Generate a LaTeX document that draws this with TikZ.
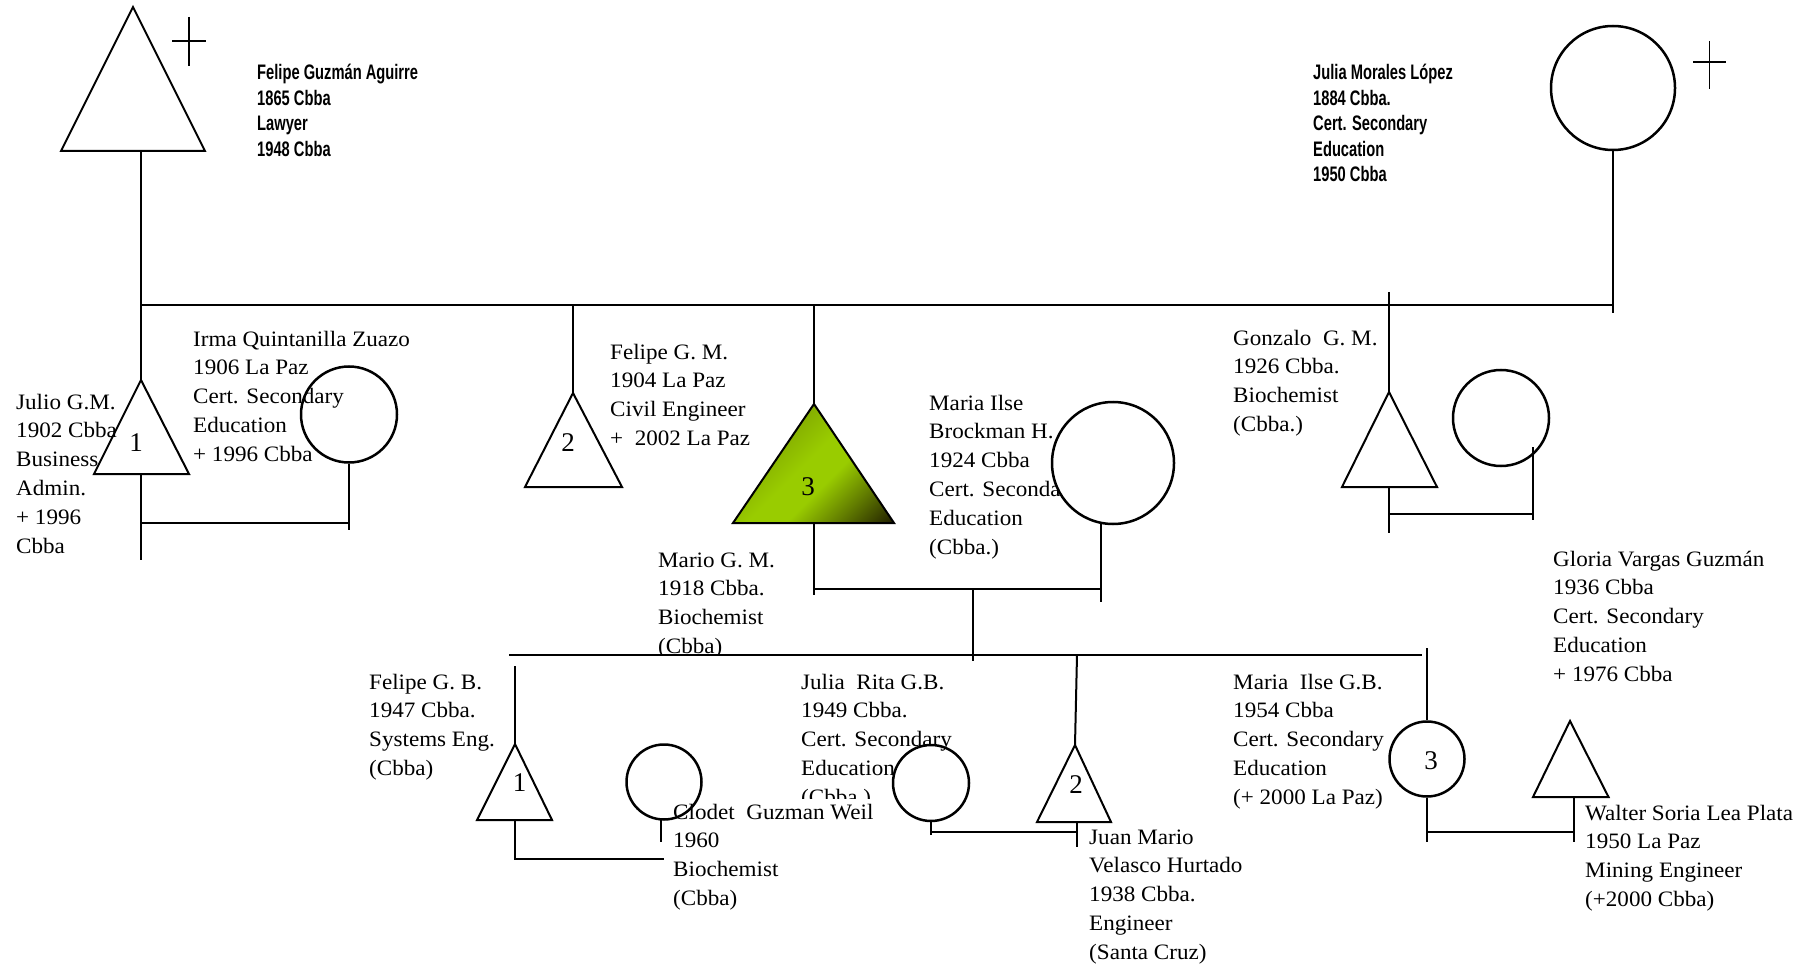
\documentclass[tikz,border=0pt]{standalone}
\usepackage{fontspec}
\setmainfont{Liberation Serif}
\newfontfamily\bodyfont[FakeStretch=1.05]{Liberation Serif}
\newfontfamily\condsans[FakeStretch=0.70]{Liberation Sans}
\newfontfamily\numfont{Liberation Serif}
\definecolor{treeGreen}{HTML}{99CC00}
\definecolor{treeEdge}{HTML}{86B000}
\definecolor{treeDark}{HTML}{262600}
\colorlet{treeMid}{treeDark!45!treeGreen}
\pgfdeclarehorizontalshading{diagshade}{100bp}{color(0bp)=(treeEdge); color(36bp)=(treeEdge); color(48bp)=(treeGreen); color(58bp)=(treeGreen); color(70bp)=(treeMid); color(84bp)=(treeDark); color(100bp)=(treeDark)}
\tikzset{
  ln/.style={line width=2pt},
  shp/.style={line width=2pt, line join=miter},
  crossln/.style={line width=1.6pt},
  circ/.style={circle, draw, line width=2.5pt, inner sep=0pt},
  txt/.style={font=\bodyfont\fontsize{22}{28.8}\selectfont, align=left, anchor=base west, inner sep=0pt},
  hdr/.style={font=\condsans\bfseries\fontsize{21}{25.4}\selectfont, align=left, anchor=base west, inner sep=0pt},
  num/.style={font=\numfont\fontsize{27}{30}\selectfont, inner sep=0pt},
}
\begin{document}
\begin{tikzpicture}[x=1pt,y=-1pt]
\useasboundingbox (0,0) rectangle (1812,965);

% ---------- first generation ----------
\coordinate (fgaTop) at (133,7);
\coordinate (fgaL) at (61,151);
\coordinate (fgaR) at (205,151);
\coordinate (fgaStem) at (141,151);
\coordinate (topL) at (141,305);
\coordinate (topR) at (1613,305);
\draw[shp] (fgaTop) -- (fgaL) -- (fgaR) -- cycle;
\draw[crossln] (189,17) -- (189,66) (172,41) -- (205.5,41);
\node[circ, minimum size=124pt] (jml) at (1613,88) {};
\coordinate (jmlEnd) at (1613,313);
\draw[crossln] (1709.5,41) -- (1709.5,89) (1693,62) -- (1726,62);
\draw[ln] (fgaStem) -- (topL) -- (topR);
\draw[ln] (jml.south) -- (jmlEnd);

% (base anchor = baseline of the last line)
\node[hdr] (tFGA) at (257,156.2) {Felipe Guzmán Aguirre\\1865 Cbba\\Lawyer\\1948 Cbba};
\node[hdr] (tJML) at (1313,181.6) {Julia Morales López\\1884 Cbba.\\Cert. Secondary\\Education\\1950 Cbba};

% ---------- Julio + Irma ----------
\coordinate (julTop) at (141,380);
\coordinate (julL) at (94,474);
\coordinate (julR) at (189,474);
\coordinate (julB) at (141,474);
\coordinate (julM) at (141,523);
\coordinate (julEnd) at (141,560);
\draw[ln] (topL) -- (julTop);
\draw[shp] (julTop) -- (julL) -- (julR) -- cycle;
\node[num] (n1a) at (136,443) {1};
\draw[ln] (julB) -- (julEnd);
\node[circ, minimum size=96pt] (irma) at (349,414.5) {};
\coordinate (irmaEnd) at (349,530);
\draw[ln] (irma.south) -- (irmaEnd);
\draw[ln] (julM) -- (julM -| irma.south);

\node[txt] (tJul) at (16,553) {Julio G.M.\\1902 Cbba\\Business\\Admin.\\+ 1996\\Cbba};
\node[txt] (tIrma) at (193,461.2) {Irma Quintanilla Zuazo\\1906 La Paz\\Cert. Secondary\\Education\\+ 1996 Cbba};

% ---------- Felipe G. M. ----------
\coordinate (fgmStem) at (573,305);
\coordinate (fgmTop) at (573,393);
\coordinate (fgmL) at (525,487);
\coordinate (fgmR) at (622,487);
\draw[ln] (fgmStem) -- (fgmTop);
\draw[shp] (fgmTop) -- (fgmL) -- (fgmR) -- cycle;
\node[num] (n2a) at (568,443) {2};
\node[txt] (tFGM) at (610,445.4) {Felipe G. M.\\1904 La Paz\\Civil Engineer\\+\ \ 2002 La Paz};

% ---------- Mario + Maria Ilse Brockman ----------
\coordinate (marStem) at (814,305);
\coordinate (marTop) at (814,404);
\coordinate (marL) at (733,523);
\coordinate (marR) at (894,523);
\coordinate (marB) at (814,523);
\coordinate (marM) at (814,589);
\coordinate (marEnd) at (814,595);
\draw[ln] (marStem) -- (marTop);
\shade[shading=diagshade, shading angle=-45] (marTop) -- (marL) -- (marR) -- cycle;
\draw[shp] (marTop) -- (marL) -- (marR) -- cycle;
\node[num] (n3a) at (808,487) {3};
\draw[ln] (marB) -- (marEnd);

\node[txt] (tBrock) at (929,554) {Maria Ilse\\Brockman H.\\1924 Cbba\\Cert. Secondary\\Education\\(Cbba.)};
\node[circ, fill=white, minimum size=122pt] (brock) at (1113,463) {};
\coordinate (brockTop) at (1101,524);
\coordinate (brockEnd) at (1101,602);
\draw[ln] (brockTop) -- (brockEnd);
\draw[ln] (marM) -- (marM -| brockTop);
\coordinate (descTop) at (973,589);
\coordinate (descEnd) at (973,661);
\draw[ln] (descTop) -- (descEnd);

\begin{scope}
  \clip (600,500) rectangle (800,654);
  \node[txt] (tMar) at (658,653.4) {Mario G. M.\\1918 Cbba.\\Biochemist\\(Cbba)};
\end{scope}

% ---------- Gonzalo ----------
\coordinate (gonStem) at (1389,292);
\coordinate (gonTop) at (1389,392);
\coordinate (gonL) at (1342,487);
\coordinate (gonR) at (1437,487);
\coordinate (gonB) at (1389,487);
\coordinate (gonM) at (1389,514);
\coordinate (gonEnd) at (1389,533);
\draw[ln] (gonStem) -- (gonTop);
\draw[shp] (gonTop) -- (gonL) -- (gonR) -- cycle;
\draw[ln] (gonB) -- (gonEnd);
\node[circ, minimum size=96pt] (gonW) at (1501,418) {};
\coordinate (gonWTop) at (1533,447);
\coordinate (gonWEnd) at (1533,520);
\draw[ln] (gonWTop) -- (gonWEnd);
\draw[ln] (gonM) -- (gonM -| gonWTop);
\node[txt] (tGon) at (1233,431.4) {Gonzalo\ \ G. M.\\1926 Cbba.\\Biochemist\\(Cbba.)};
\node[txt] (tGlo) at (1553,681.2) {Gloria Vargas Guzmán\\1936 Cbba\\Cert. Secondary\\Education\\+ 1976 Cbba};

% ---------- third generation ----------
\coordinate (chL) at (509,655);
\coordinate (chR) at (1422,655);
\draw[ln] (chL) -- (chR);

% Felipe G. B. + Clodet
\coordinate (fgbStem) at (515,666);
\coordinate (fgbTop) at (515,744);
\coordinate (fgbL) at (477,820);
\coordinate (fgbR) at (552,820);
\coordinate (fgbB) at (515,820);
\coordinate (fgbM) at (515,859);
\draw[ln] (fgbStem) -- (fgbTop);
\draw[shp] (fgbTop) -- (fgbL) -- (fgbR) -- cycle;
\node[num] (n1b) at (519.5,783) {1};
\node[circ, minimum size=75pt] (clo) at (664,782) {};
\coordinate (cloTop) at (661,820);
\coordinate (cloEnd) at (661,842);
\draw[ln] (cloTop) -- (cloEnd);
\draw[ln] (fgbB) -- (fgbM) -- (fgbM -| clo.south);
\node[txt] (tFGB) at (369,775.4) {Felipe G. B.\\1947 Cbba.\\Systems Eng.\\(Cbba)};

% Julia Rita + Juan Mario
\node[circ, minimum size=76pt] (jrita) at (931,783) {};
\coordinate (jritaEnd) at (931,835);
\coordinate (jritaM) at (931,832);
\coordinate (juanStem) at (1077,655);
\coordinate (juanTop) at (1075,745);
\coordinate (juanL) at (1037,822);
\coordinate (juanR) at (1111,822);
\coordinate (juanB) at (1077,822);
\coordinate (juanEnd) at (1077,847);
\draw[ln] (jrita.south) -- (jritaEnd);
\draw[ln] (juanStem) -- (juanTop);
\draw[shp] (juanTop) -- (juanL) -- (juanR) -- cycle;
\node[num] (n2b) at (1076,785) {2};
\draw[ln] (juanB) -- (juanEnd);
\draw[ln] (jritaM) -- (jritaM -| juanB);
\begin{scope}
  \clip (780,650) rectangle (1010,798);
  \node[txt] (tJR) at (801,804.2) {Julia\ \ Rita G.B.\\1949 Cbba.\\Cert. Secondary\\Education\\(Cbba.)};
\end{scope}
\node[txt] (tClo) at (673,905.4) {Clodet\ \ Guzman Weil\\1960\\Biochemist\\(Cbba)};
\node[txt] (tJuan) at (1089,959.2) {Juan Mario\\Velasco Hurtado\\1938 Cbba.\\Engineer\\(Santa Cruz)};

% Maria Ilse G. B. + Walter
\coordinate (milStem) at (1427,648);
\node[circ, minimum size=75pt] (mil) at (1427,759) {};
\node[num] (n3b) at (1431,761) {3};
\coordinate (milEnd) at (1427,842);
\coordinate (milM) at (1427,832);
\draw[ln] (milStem) -- (mil.north);
\draw[ln] (mil.south) -- (milEnd);
\coordinate (walTop) at (1570,721);
\coordinate (walL) at (1533,797);
\coordinate (walR) at (1608.5,797);
\coordinate (walB) at (1574,797);
\coordinate (walEnd) at (1574,842);
\draw[shp] (walTop) -- (walL) -- (walR) -- cycle;
\draw[ln] (walB) -- (walEnd);
\draw[ln] (milM) -- (milM -| walB);
\node[txt] (tMil) at (1233,804.2) {Maria\ \ Ilse G.B.\\1954 Cbba\\Cert. Secondary\\Education\\(+ 2000 La Paz)};
\node[txt] (tWal) at (1585,906.4) {Walter Soria Lea Plata\\1950 La Paz\\Mining Engineer\\(+2000 Cbba)};
\end{tikzpicture}
\end{document}
